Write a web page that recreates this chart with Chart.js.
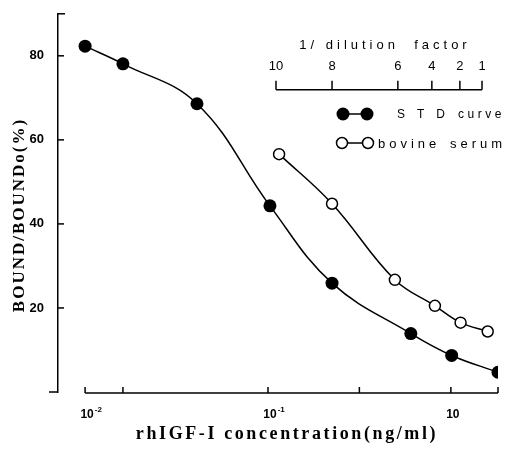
<!DOCTYPE html>
<html>
<head>
<meta charset="utf-8">
<script src="https://cdn.jsdelivr.net/npm/chart.js@4.4.1/dist/chart.umd.min.js"></script>
<style>
  html, body { margin: 0; padding: 0; background: #fff; }
</style>
</head>
<body>
<canvas id="chart" width="507" height="454"></canvas>
<script>
// rhIGF-I concentration (ng/ml) as placed on the log axis, and BOUND/BOUNDo (%)
const stdConc = [0.01, 0.0161, 0.0409, 0.1025, 0.224, 0.604, 1.01, 1.81];
const stdBound = [82.3, 78.1, 68.6, 44.3, 25.9, 13.9, 8.7, 4.7];
const serumConc = [0.115, 0.224, 0.494, 0.818, 1.13, 1.59];
const serumBound = [56.6, 44.8, 26.7, 20.5, 16.5, 14.4];

// axis ticks
const yTicks = [0, 20, 40, 60, 80];
const yTickLabels = ['', '20', '40', '60', '80'];
const xTicks = [0.01, 0.0161, 0.1, 0.316, 1, 1.81];
const xLabelValues = [0.01, 0.1, 1];
const xLabelExp = ['-2', '-1', ''];

// inset "1/dilution factor" axis
const dilutionLabels = ['10', '8', '6', '4', '2', '1'];
const dilutionConc = [0.1106, 0.224, 0.513, 0.787, 1.12, 1.48];
const dilutionAxisAt = 71.9;

const SANS = '"Liberation Sans", Arial, sans-serif';
const SERIF = '"Liberation Serif", "Times New Roman", serif';

const paperPlugin = {
    id: 'paper',
    beforeDraw(chart) {
        const ctx = chart.ctx;
        ctx.save();
        ctx.fillStyle = '#fff';
        ctx.fillRect(0, 0, chart.width, chart.height);
        ctx.restore();
    },
    afterDraw(chart) {
        const ctx = chart.ctx;
        const xs = chart.scales.x;
        const ys = chart.scales.y;
        const area = chart.chartArea;
        ctx.save();
        ctx.strokeStyle = '#000';
        ctx.fillStyle = '#000';
        ctx.lineWidth = 1.5;

        // y ticks (inside), bottom one sticks out left
        yTicks.forEach((v, i) => {
            const py = ys.getPixelForValue(v);
            ctx.beginPath();
            if (i === 0) {
                ctx.moveTo(area.left - 9, py);
                ctx.lineTo(area.left, py);
            } else {
                ctx.moveTo(area.left, py);
                ctx.lineTo(area.left + 6, py);
            }
            ctx.stroke();
        });
        // small bar at the top of the y axis
        ctx.beginPath();
        ctx.moveTo(area.left, area.top);
        ctx.lineTo(area.left + 7, area.top);
        ctx.stroke();

        // x axis line, starting at 10^-2
        const baseY = ys.getPixelForValue(0) + 1;
        ctx.beginPath();
        ctx.moveTo(xs.getPixelForValue(xTicks[0]), baseY);
        ctx.lineTo(xs.getPixelForValue(xTicks[xTicks.length - 1]), baseY);
        ctx.stroke();
        xTicks.forEach(v => {
            const px = xs.getPixelForValue(v);
            ctx.beginPath();
            ctx.moveTo(px, baseY);
            ctx.lineTo(px, baseY - 6);
            ctx.stroke();
        });

        // x tick labels with superscript exponents
        ctx.textBaseline = 'alphabetic';
        xLabelValues.forEach((v, i) => {
            const px = xs.getPixelForValue(v);
            ctx.font = 'bold 12px ' + SANS;
            ctx.textAlign = 'center';
            ctx.fillText('10', px + 2, 418);
            if (xLabelExp[i]) {
                const w = ctx.measureText('10').width;
                ctx.font = 'bold 8px ' + SANS;
                ctx.textAlign = 'left';
                ctx.fillText(xLabelExp[i], px + 2 + w / 2 + 1, 412);
            }
        });

        // x axis title
        ctx.font = 'bold 18px ' + SERIF;
        ctx.letterSpacing = '2.6px';
        ctx.textAlign = 'center';
        ctx.textBaseline = 'middle';
        ctx.fillText('rhIGF-I concentration(ng/ml)', 287, 434);

        // y axis title
        ctx.save();
        ctx.translate(20, 215);
        ctx.rotate(-Math.PI / 2);
        ctx.font = 'bold 17px ' + SERIF;
        ctx.letterSpacing = '2px';
        ctx.fillText('BOUND/BOUNDo(%)', 0, 0);
        ctx.restore();

        // inset dilution axis
        const dy = ys.getPixelForValue(dilutionAxisAt);
        ctx.lineWidth = 1.5;
        ctx.beginPath();
        ctx.moveTo(xs.getPixelForValue(dilutionConc[0]), dy);
        ctx.lineTo(xs.getPixelForValue(dilutionConc[dilutionConc.length - 1]), dy);
        ctx.stroke();
        ctx.font = '13px ' + SANS;
        ctx.letterSpacing = '0px';
        ctx.textAlign = 'center';
        ctx.textBaseline = 'middle';
        dilutionConc.forEach((v, i) => {
            const px = xs.getPixelForValue(v);
            ctx.beginPath();
            ctx.moveTo(px, dy);
            ctx.lineTo(px, dy - 9);
            ctx.stroke();
            ctx.fillText(dilutionLabels[i], px, dy - 23);
        });
        ctx.letterSpacing = '4px';
        ctx.fillText('1/ dilution  factor', 385, 45);

        // legend
        ctx.lineWidth = 1.5;
        ctx.beginPath();
        ctx.moveTo(343, 114);
        ctx.lineTo(367, 114);
        ctx.stroke();
        [343, 367].forEach(cx => {
            ctx.beginPath();
            ctx.arc(cx, 114, 6.5, 0, Math.PI * 2);
            ctx.fill();
        });
        ctx.beginPath();
        ctx.moveTo(342, 143);
        ctx.lineTo(368, 143);
        ctx.stroke();
        [342, 368].forEach(cx => {
            ctx.beginPath();
            ctx.arc(cx, 143, 5.5, 0, Math.PI * 2);
            ctx.fillStyle = '#fff';
            ctx.fill();
            ctx.stroke();
        });
        ctx.fillStyle = '#000';
        ctx.textAlign = 'left';
        ctx.font = '12px ' + SANS;
        ctx.letterSpacing = '12px';
        ctx.fillText('STD', 397, 115);
        ctx.letterSpacing = '3.5px';
        ctx.fillText('curve', 458, 115);
        ctx.font = '13px ' + SANS;
        ctx.letterSpacing = '4px';
        ctx.fillText('bovine', 378, 144);
        ctx.fillText('serum', 450, 144);

        ctx.restore();
    }
};

const ctx = document.getElementById('chart').getContext('2d');
const chart = new Chart(ctx, {
    type: 'line',
    data: {
        datasets: [
            {
                label: 'STD curve',
                data: stdConc.map((c, i) => ({ x: c, y: stdBound[i] })),
                borderColor: '#000',
                borderWidth: 1.5,
                backgroundColor: '#000',
                pointRadius: 6.5,
                pointBorderWidth: 0,
                tension: 0.4,
                fill: false,
            },
            {
                label: 'bovine serum',
                data: serumConc.map((c, i) => ({ x: c, y: serumBound[i] })),
                borderColor: '#000',
                borderWidth: 1.5,
                backgroundColor: '#fff',
                pointRadius: 5.5,
                pointBorderWidth: 1.5,
                pointBorderColor: '#000',
                tension: 0.4,
                fill: false,
            },
        ],
    },
    options: {
        responsive: false,
        animation: false,
        layout: { padding: { top: 10, right: 9, left: 0, bottom: 0 } },
        plugins: { legend: { display: false }, tooltip: { enabled: false } },
        scales: {
            x: {
                type: 'logarithmic',
                min: 0.00711,
                max: 1.81,
                grid: { display: false },
                border: { display: false },
                ticks: { display: false },
                afterFit: (scale) => { scale.height = 62; },
            },
            y: {
                min: 0,
                max: 90,
                grid: { display: false },
                border: { display: true, color: '#000', width: 1.5 },
                afterBuildTicks: (scale) => { scale.ticks = yTicks.map(v => ({ value: v })); },
                ticks: {
                    color: '#000',
                    padding: 6,
                    font: { family: SANS, size: 13, weight: 'bold' },
                    callback: (v) => yTickLabels[yTicks.indexOf(v)],
                },
                afterFit: (scale) => { scale.width = 58; },
            },
        },
    },
    plugins: [paperPlugin],
});
</script>
</body>
</html>
